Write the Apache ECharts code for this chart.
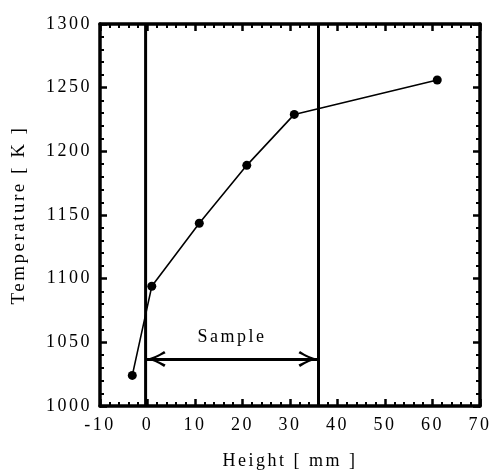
<!DOCTYPE html>
<html>
<head>
<meta charset="utf-8">
<script src="https://cdn.jsdelivr.net/npm/echarts@6/dist/echarts.min.js"></script>
<style>
  html, body { margin: 0; padding: 0; background: #fff; }
  #chart { width: 496px; height: 475px; }
</style>
</head>
<body>
<div id="chart"></div>
<script>
// Measured temperature profile along the height
const heights = [-3.2, 0.9, 10.9, 20.9, 30.9, 61.0];
const temperatures = [1024, 1094, 1143.5, 1189, 1229, 1256];

// Sample extent (mm) and the height of its dimension arrow (K)
const sampleStart = -0.4;
const sampleEnd = 36.0;
const sampleArrowLevel = 1037;
const sampleLabel = 'Sample';

// Axis ranges
const xRange = { min: -10, max: 70, interval: 10 };
const yRange = { min: 1000, max: 1300, interval: 50 };

const FONT = 'Liberation Serif';
const INK = '#000';
const LETTER_SPACING = '2.5px';

// Chevron arrow head with its tip at the centre of the symbol box
// (the tiny stub at the top only balances the box, the head fills the lower half)
const arrowHead = 'path://M8,0 L8.01,0 L8,0 Z M8,20 Q10,30 16,38.5 L13.6,40 Q9.6,32 8,27.5 Q6.4,32 2.4,40 L0,38.5 Q6,30 8,20 Z';

function frameAxis(extra) {
  return Object.assign({
    type: 'value',
    axisLine: { show: true, onZero: false, lineStyle: { color: INK, width: 3.5 } },
    axisTick: { show: true, inside: true, length: 7, lineStyle: { color: INK, width: 2.5 } },
    minorTick: { show: true, splitNumber: 5, length: 4, lineStyle: { color: INK, width: 2 } },
    splitLine: { show: false },
    minorSplitLine: { show: false }
  }, extra);
}

const plainNumber = v => String(v);

const option = {
  animation: false,
  backgroundColor: '#fff',
  grid: { left: 100, right: 16, top: 24, bottom: 69 },
  xAxis: [
    frameAxis({
      position: 'bottom',
      min: xRange.min, max: xRange.max, interval: xRange.interval,
      name: 'Height [ mm ]', nameLocation: 'middle', nameGap: 46,
      nameTextStyle: { fontFamily: FONT, fontSize: 18, color: INK },
      axisLabel: { fontFamily: FONT, fontSize: 18, color: INK, margin: 10, formatter: plainNumber }
    }),
    frameAxis({
      position: 'top',
      min: xRange.min, max: xRange.max, interval: xRange.interval,
      axisLabel: { show: false }
    })
  ],
  yAxis: [
    frameAxis({
      position: 'left',
      min: yRange.min, max: yRange.max, interval: yRange.interval,
      name: 'Temperature [ K ]', nameLocation: 'middle', nameGap: 71, nameRotate: 90,
      nameTextStyle: { fontFamily: FONT, fontSize: 19, color: INK },
      axisLabel: { fontFamily: FONT, fontSize: 18, color: INK, margin: 8, formatter: plainNumber }
    }),
    frameAxis({
      position: 'right',
      min: yRange.min, max: yRange.max, interval: yRange.interval,
      axisLabel: { show: false }
    })
  ],
  series: [
    {
      name: 'sampleStart',
      type: 'line',
      symbol: 'none',
      silent: true,
      lineStyle: { color: INK, width: 3 },
      data: [[sampleStart, yRange.min], [sampleStart, yRange.max]],
      markLine: {
        silent: true,
        symbol: [arrowHead, arrowHead],
        symbolSize: [16, 40],
        lineStyle: { color: INK, width: 3, type: 'solid' },
        itemStyle: { color: INK },
        label: {
          show: true, position: 'middle', formatter: sampleLabel,
          fontFamily: FONT, fontSize: 18, color: INK, distance: 13
        },
        data: [[
          { coord: [sampleStart, sampleArrowLevel] },
          { coord: [sampleEnd, sampleArrowLevel] }
        ]]
      }
    },
    {
      name: 'sampleEnd',
      type: 'line',
      symbol: 'none',
      silent: true,
      lineStyle: { color: INK, width: 3 },
      data: [[sampleEnd, yRange.min], [sampleEnd, yRange.max]]
    },
    {
      name: 'temperature',
      type: 'line',
      symbol: 'circle',
      symbolSize: 9,
      itemStyle: { color: INK },
      lineStyle: { color: INK, width: 1.6 },
      data: heights.map((h, i) => [h, temperatures[i]])
    }
  ]
};

const dom = document.getElementById('chart');
const chart = echarts.init(dom, null, { renderer: 'canvas' });
chart.setOption(option);

// Wider tracking for the labels: set it on the drawing canvas, then redraw
dom.querySelectorAll('canvas').forEach(c => {
  const ctx = c.getContext('2d');
  if ('letterSpacing' in ctx) ctx.letterSpacing = LETTER_SPACING;
});
chart.setOption(option, true);
</script>
</body>
</html>
